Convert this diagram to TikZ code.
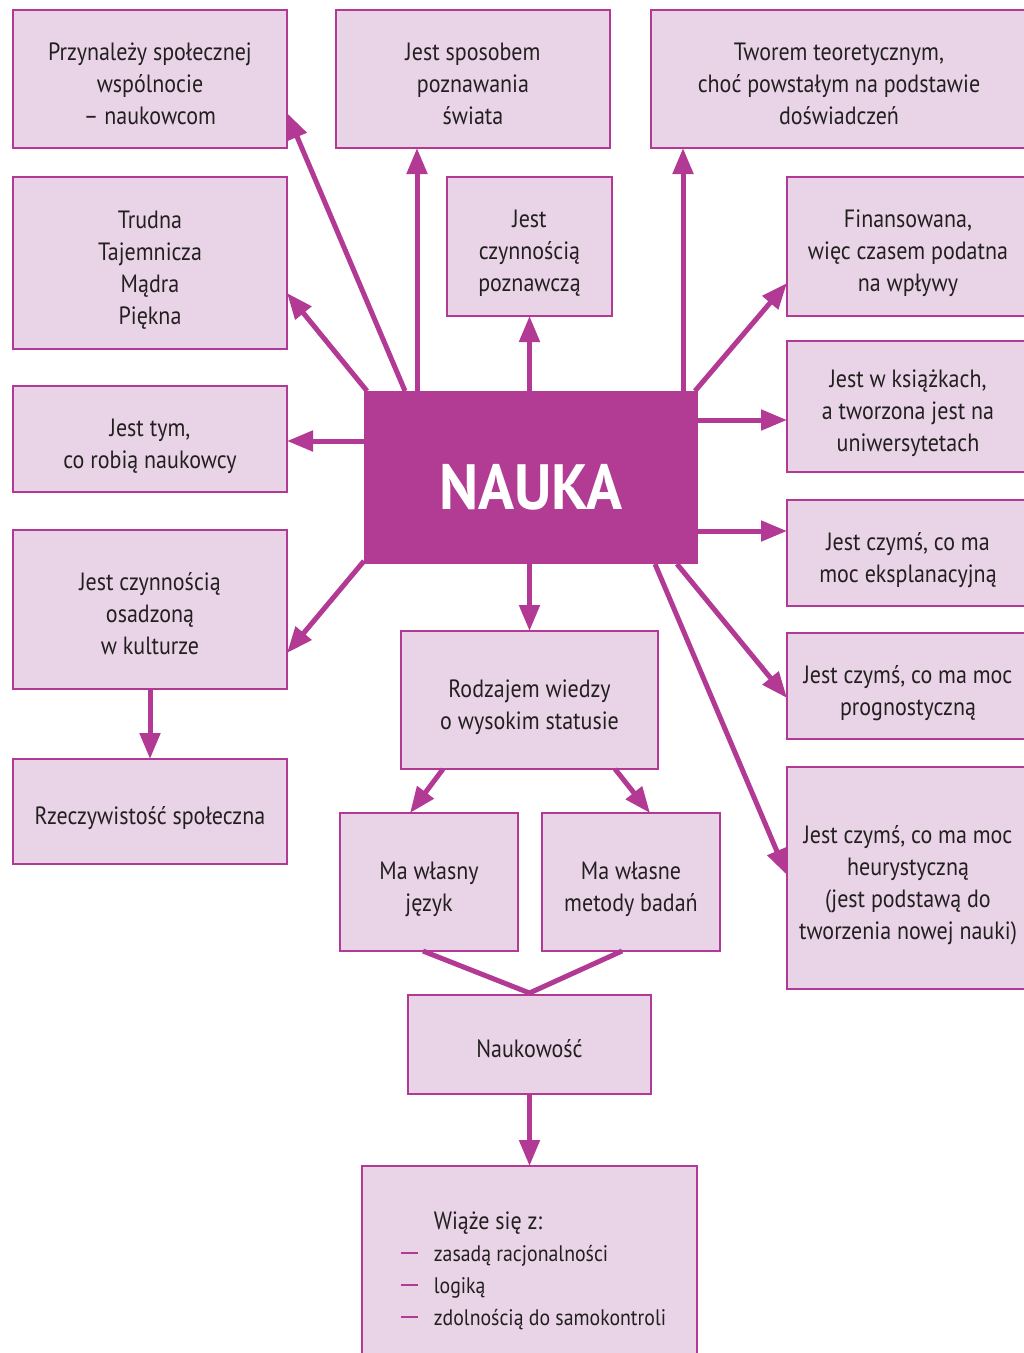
\documentclass[tikz,border=0pt]{standalone}
\usepackage{fontspec}
\setmainfont[FakeStretch=0.88]{PT Sans}
\newfontfamily\titlefont[FakeStretch=0.93]{PT Sans}
\usetikzlibrary{arrows.meta}

\definecolor{magline}{HTML}{B33A94}
\definecolor{boxfill}{HTML}{E9D4E7}
\definecolor{titlefill}{HTML}{B23C93}
\definecolor{inkgray}{HTML}{231F20}

% stacked lines of a box label, set slightly below the geometric centre
\newcommand\boxlines[2][c]{\raisebox{-7pt}[\height][\depth]{%
  \begin{tabular}{@{}#1@{}}#2\end{tabular}}}
% magenta dash in front of a list entry
\newcommand\itemdash{\makebox[33pt][l]{\textcolor{magline}{\rule[7pt]{17pt}{2pt}}}}
% smaller type for list entries
\newcommand\itemtext[1]{{\fontsize{22.5pt}{32pt}\selectfont #1}}

\tikzset{
  box/.style={draw=magline, line width=2.8pt, fill=boxfill, text=inkgray,
    inner sep=0pt, outer sep=0pt,
    font=\fontsize{25pt}{32pt}\selectfont},
  link/.style={draw=magline, line width=5pt,
    -{Triangle[length=26pt,width=20pt]}},
  joinline/.style={draw=magline, line width=5pt, line join=miter},
}

\begin{document}
\begin{tikzpicture}[x=1pt, y=-1pt]
  \clip (0,0) rectangle (1024,1353);
  \fill[white] (0,0) rectangle (1024,1353);

  % central node
  \node[fill=titlefill, minimum width=334pt, minimum height=173pt,
    inner sep=0pt, outer sep=0pt,
    label={[text=white, font=\titlefont\bfseries\fontsize{64pt}{64pt}\selectfont,
      yshift=-10pt]center:NAUKA}] (nauka) at (531,477.5) {};

  % left column
  \node[box, minimum width=274pt, minimum height=138pt] (a) at (150,79)
    {\boxlines{Przynależy społecznej\\wspólnocie\\– naukowcom}};
  \node[box, minimum width=274pt, minimum height=172pt] (d) at (150,263)
    {\boxlines{Trudna\\Tajemnicza\\Mądra\\Piękna}};
  \node[box, minimum width=274pt, minimum height=106pt] (h) at (150,439)
    {\boxlines{Jest tym,\\co robią naukowcy}};
  \node[box, minimum width=274pt, minimum height=159pt] (j) at (150,609.5)
    {\boxlines{Jest czynnością\\osadzoną\\w kulturze}};
  \node[box, minimum width=274pt, minimum height=105pt] (m) at (150,811.5)
    {\boxlines{Rzeczywistość społeczna}};

  % top row
  \node[box, minimum width=274pt, minimum height=138pt] (b) at (473,79)
    {\boxlines{Jest sposobem\\poznawania\\świata}};
  \node[box, minimum width=376pt, minimum height=138pt] (c) at (839,79)
    {\boxlines{Tworem teoretycznym,\\choć powstałym na podstawie\\doświadczeń}};
  \node[box, minimum width=165pt, minimum height=139pt] (e) at (529.5,246.5)
    {\boxlines{Jest\\czynnością\\poznawczą}};

  % right column
  \node[box, minimum width=242pt, minimum height=139pt] (f) at (908,246.5)
    {\boxlines{Finansowana,\\więc czasem podatna\\na wpływy}};
  \node[box, minimum width=242pt, minimum height=131pt] (g) at (908,406.5)
    {\boxlines{Jest w książkach,\\a tworzona jest na\\uniwersytetach}};
  \node[box, minimum width=242pt, minimum height=106pt] (i) at (908,553)
    {\boxlines{Jest czymś, co ma\\moc eksplanacyjną}};
  \node[box, minimum width=242pt, minimum height=106pt] (l) at (908,686)
    {\boxlines{Jest czymś, co ma moc\\prognostyczną}};
  \node[box, minimum width=242pt, minimum height=222pt] (p) at (908,878)
    {\boxlines{Jest czymś, co ma moc\\heurystyczną\\(jest podstawą do\\tworzenia nowej nauki)}};

  % middle column
  \node[box, minimum width=257pt, minimum height=138pt] (k) at (529.5,700)
    {\boxlines{Rodzajem wiedzy\\o wysokim statusie}};
  \node[box, minimum width=178pt, minimum height=138pt] (n) at (429,882)
    {\boxlines{Ma własny\\język}};
  \node[box, minimum width=178pt, minimum height=138pt] (o) at (631,882)
    {\boxlines{Ma własne\\metody badań}};
  \node[box, minimum width=243pt, minimum height=99pt] (q) at (529.5,1044.5)
    {\boxlines{Naukowość}};
  \node[box, minimum width=335pt, minimum height=196pt] (r) at (529.5,1264)
    {\boxlines[l]{\hspace*{41pt}Wiąże się z:\\
     \hspace*{8pt}\itemdash\itemtext{zasadą racjonalności}\\
     \hspace*{8pt}\itemdash\itemtext{logiką}\\
     \hspace*{8pt}\itemdash\itemtext{zdolnością do samokontroli}}};

  % connectors from the central node
  \coordinate (gs) at ([yshift=-29pt]nauka.north east);
  \coordinate (hs) at ([yshift=-50pt]nauka.north west);
  \coordinate (is) at ([yshift=33pt]nauka.south east);

  \draw[link] ([xshift=41pt]nauka.north west) -- ([yshift=35pt]a.south east);
  \draw[link] ([xshift=53pt]nauka.north west) -- ([xshift=-56pt]b.south);
  \draw[link] ([xshift=3pt]nauka.north west) -- ([yshift=56pt]d.south east);
  \draw[link] (nauka.north -| e.south) -- (e.south);
  \draw[link] ([xshift=-15pt]nauka.north east) -- ([xshift=32pt]c.south west);
  \draw[link] ([xshift=-3pt]nauka.north east) -- ([yshift=33pt]f.south west);
  \draw[link] (gs) -- (gs -| g.west);
  \draw[link] (hs) -- (hs -| h.east);
  \draw[link] (is) -- (is -| i.west);
  \draw[link] ([yshift=3pt]nauka.south west) -- ([yshift=36pt]j.south east);
  \draw[link] (nauka.south -| k.north) -- (k.north);
  \draw[link] ([xshift=-21pt]nauka.south east) -- ([yshift=41pt]l.south west);
  \draw[link] ([xshift=-43pt]nauka.south east) -- ([yshift=114pt]p.south west);

  % remaining connectors
  \draw[link] (j.south) -- (m.north);
  \draw[link] ([xshift=42pt]k.south west) -- ([xshift=70pt]n.north west);
  \draw[link] ([xshift=-43pt]k.south east) -- ([xshift=-70pt]o.north east);
  \draw[joinline] ([xshift=83pt]n.south west) -- ([yshift=2pt]q.north)
    -- ([xshift=-98pt]o.south east);
  \draw[link] (q.south) -- (r.north);
\end{tikzpicture}
\end{document}
